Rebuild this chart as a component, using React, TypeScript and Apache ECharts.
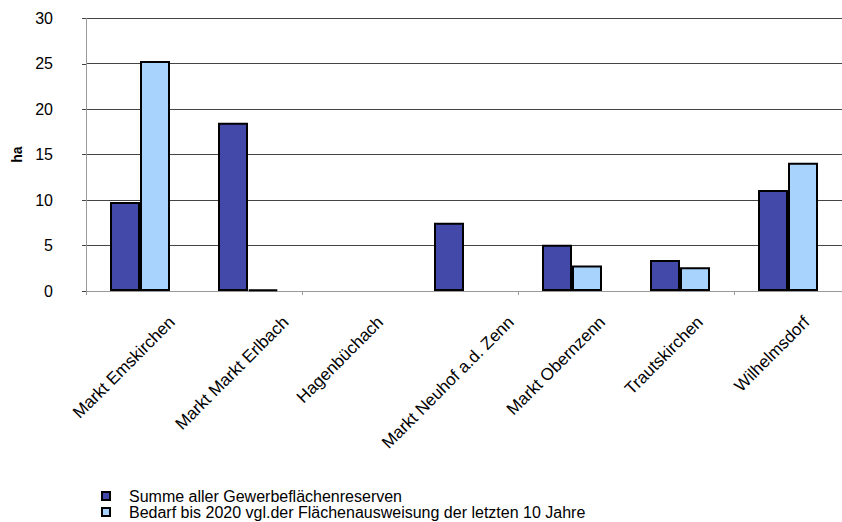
import React, { useEffect, useRef } from 'react';
import * as echarts from 'echarts';

const categories = [
  'Markt Emskirchen',
  'Markt Markt Erlbach',
  'Hagenbüchach',
  'Markt Neuhof a.d. Zenn',
  'Markt Obernzenn',
  'Trautskirchen',
  'Wilhelmsdorf',
];
const seriesNames = [
  'Summe aller Gewerbeflächenreserven',
  'Bedarf bis 2020 vgl.der Flächenausweisung der letzten 10 Jahre',
];
const reserven: (number | null)[] = [9.8, 18.5, null, 7.5, 5.1, 3.4, 11.1];
const bedarf: (number | null)[] = [25.3, 0.15, null, null, 2.8, 2.6, 14.1];
const yMin = 0;
const yMax = 30;
const yInterval = 5;
const yAxisName = 'ha';

const FONT = '"Liberation Sans", Arial, Helvetica, sans-serif';
const LABEL_SIZE = 17;

let measureCtx: CanvasRenderingContext2D | null = null;
function measure(text: string, size: number): number {
  if (!measureCtx) {
    measureCtx = document.createElement('canvas').getContext('2d');
  }
  if (!measureCtx) return text.length * size * 0.5;
  measureCtx.font = `${size}px ${FONT}`;
  return measureCtx.measureText(text).width;
}

export default function App() {
  const ref = useRef<HTMLDivElement>(null);
  useEffect(() => {
    if (!ref.current) return;
    const chart = echarts.init(ref.current, undefined, { renderer: 'svg' });
    const option: any = {
      animation: false,
      backgroundColor: '#ffffff',
      textStyle: { fontFamily: FONT },
      grid: { left: 86, top: 18.3, width: 764, height: 272.7, containLabel: false },
      legend: {
        orient: 'vertical',
        left: 101,
        top: 488,
        height: 40,
        width: 700,
        padding: 0,
        data: seriesNames,
        icon: 'rect',
        itemWidth: 8,
        itemHeight: 8,
        itemGap: 0,
        itemStyle: { borderColor: '#000', borderWidth: 2 },
        textStyle: {
          fontSize: 16,
          fontFamily: FONT,
          color: '#000',
          lineHeight: 14,
          padding: [0, 0, 0, 14],
        },
        selectedMode: false,
      },
      xAxis: {
        type: 'category',
        data: categories,
        boundaryGap: true,
        axisLine: { show: true, lineStyle: { color: '#999', width: 1 } },
        axisTick: { show: true, length: 4, alignWithLabel: false, lineStyle: { color: '#999' } },
        axisLabel: { show: false },
        splitLine: { show: false },
      },
      yAxis: {
        type: 'value',
        min: yMin,
        max: yMax,
        interval: yInterval,
        name: yAxisName,
        nameLocation: 'middle',
        nameRotate: 90,
        nameGap: 62,
        nameTextStyle: { fontSize: 14, fontWeight: 'bold', color: '#000', fontFamily: FONT },
        axisLine: { show: true, lineStyle: { color: '#999', width: 1 } },
        axisTick: { show: true, length: 4, lineStyle: { color: '#444' } },
        axisLabel: { fontSize: 16, color: '#000', margin: 33, fontFamily: FONT },
        splitLine: { show: true, lineStyle: { color: '#444', width: 1 } },
      },
      series: [
        {
          name: seriesNames[0],
          type: 'bar',
          data: reserven,
          barWidth: 30,
          barGap: '0%',
          itemStyle: { color: '#4249a8', borderColor: '#000', borderWidth: 2 },
          z: 3,
        },
        {
          name: seriesNames[1],
          type: 'bar',
          data: bedarf,
          barWidth: 30,
          barGap: '0%',
          itemStyle: { color: '#a8d3fc', borderColor: '#000', borderWidth: 2 },
          z: 3,
        },
        {
          type: 'custom',
          name: 'labels',
          silent: true,
          clip: false,
          encode: { x: 0, y: 1 },
          data: categories.map((_, i) => [i, 0]),
          renderItem: (params: any, api: any) => {
            const i = api.value(0);
            const pt = api.coord([i, 0]);
            const text = categories[i];
            const L = measure(text, LABEL_SIZE);
            const h = LABEL_SIZE * 0.72;
            const d = (L + h) / (2 * Math.SQRT2);
            return {
              type: 'text',
              x: pt[0] - 16,
              y: pt[1] + 24 + d,
              rotation: Math.PI / 4,
              style: {
                text,
                x: 0,
                y: 0,
                fill: '#000',
                fontSize: LABEL_SIZE,
                fontFamily: FONT,
                align: 'center',
                verticalAlign: 'middle',
              },
            };
          },
          z: 5,
        },
      ],
    };
    chart.setOption(option);
    return () => {
      chart.dispose();
    };
  }, []);
  return (
    <div
      ref={ref}
      style={{ position: 'fixed', left: 0, top: 0, width: 842, height: 522, background: '#fff' }}
    />
  );
}
